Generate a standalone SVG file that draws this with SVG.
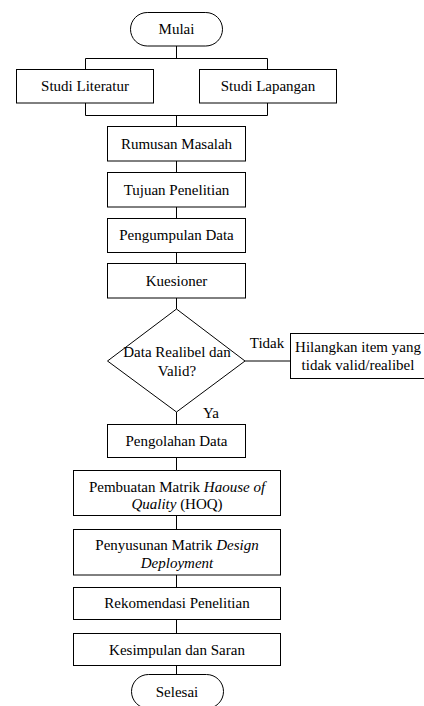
<svg xmlns="http://www.w3.org/2000/svg" width="424" height="706" viewBox="0 0 424 706">
<style>
.s{fill:#fff;stroke:#000;stroke-width:1}
.t{font-family:'Liberation Serif','Times New Roman','DejaVu Serif',serif;font-size:15px;fill:#000;text-anchor:middle}
.l{fill:none;stroke:#000;stroke-width:1}
.i{font-style:italic}
</style>
<rect width="424" height="706" fill="#fff"/>
<g id="connectors">
<path class="l" d="M176.5 46V58.5M85.5 58.5H267.5M85.5 58.5V69M267.5 58.5V69"/>
<path class="l" d="M85.5 103V115.5H267.5V103M176.5 115.5V126"/>
<path class="l" d="M176.5 161V172M176.5 207V218M176.5 252V263M176.5 298V309"/>
<path class="l" d="M245 361H290"/>
<path class="l" d="M176.5 412V424M176.5 457V470M176.5 515V529M176.5 575V587M176.5 619V633M176.5 665V674"/>
<text class="t" x="267" y="348" font-family="Liberation Serif, serif">Tidak</text>
<text class="t" x="211" y="418" font-family="Liberation Serif, serif">Ya</text>
</g>
<g id="mulai" font-family="Liberation Serif, serif"><rect class="s" x="130.5" y="12.5" width="92" height="33.5" rx="16.75"/><text class="t" x="176.5" y="34">Mulai</text></g>
<g id="studi-literatur"><rect class="s" x="16.5" y="69.5" width="137" height="33.5"/><text class="t" x="85" y="91">Studi Literatur</text></g>
<g id="studi-lapangan"><rect class="s" x="199.5" y="69.5" width="137" height="33.5"/><text class="t" x="268" y="91">Studi Lapangan</text></g>
<g id="rumusan"><rect class="s" x="107.5" y="126.5" width="138" height="34.5"/><text class="t" x="176.5" y="148.5">Rumusan Masalah</text></g>
<g id="tujuan"><rect class="s" x="107.5" y="172.5" width="138" height="34.5"/><text class="t" x="176.5" y="194.5">Tujuan Penelitian</text></g>
<g id="pengumpulan"><rect class="s" x="107.5" y="218.5" width="138" height="34"/><text class="t" x="176.5" y="240">Pengumpulan Data</text></g>
<g id="kuesioner"><rect class="s" x="107.5" y="263.5" width="138" height="34.5"/><text class="t" x="176.5" y="285.5">Kuesioner</text></g>
<g id="keputusan"><polygon class="s" points="176.5,309 245,361 176.5,412 107.5,361"/><text class="t" x="177" y="357">Data Realibel dan</text><text class="t" x="177" y="376">Valid?</text></g>
<g id="hilangkan"><rect class="s" x="290.5" y="333.5" width="140" height="45"/><text class="t" x="358" y="352">Hilangkan item yang</text><text class="t" x="358" y="370">tidak valid/realibel</text></g>
<g id="pengolahan"><rect class="s" x="107.5" y="424.5" width="138" height="33"/><text class="t" x="176.5" y="446">Pengolahan Data</text></g>
<g id="pembuatan"><rect class="s" x="73.5" y="470.5" width="207" height="45"/><text class="t" x="177" y="492">Pembuatan Matrik <tspan class="i">Haouse of</tspan></text><text class="t" x="177" y="509"><tspan class="i">Quality</tspan> (HOQ)</text></g>
<g id="penyusunan"><rect class="s" x="73.5" y="529.5" width="207" height="45.5"/><text class="t" x="177" y="550">Penyusunan Matrik <tspan class="i">Design</tspan></text><text class="t i" x="177" y="568">Deployment</text></g>
<g id="rekomendasi"><rect class="s" x="73.5" y="587.5" width="207" height="32"/><text class="t" x="177" y="608">Rekomendasi Penelitian</text></g>
<g id="kesimpulan"><rect class="s" x="73.5" y="633.5" width="207" height="32"/><text class="t" x="177" y="654.5">Kesimpulan dan Saran</text></g>
<g id="selesai"><rect class="s" x="131.5" y="674.5" width="92" height="34" rx="17"/><text class="t" x="177" y="697">Selesai</text></g>
</svg>
